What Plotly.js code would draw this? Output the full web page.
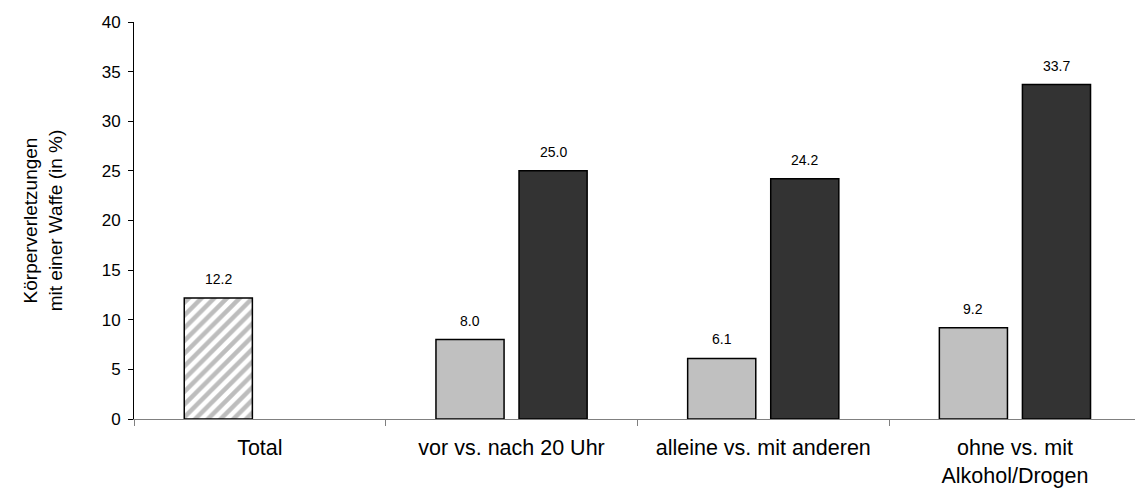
<!DOCTYPE html>
<html>
<head>
<meta charset="utf-8">
<script src="https://cdn.plot.ly/plotly-3.0.1.min.js"></script>
<style>html,body{margin:0;padding:0;background:#fff;}#chart{width:1135px;height:488px;}</style>
</head>
<body>
<div id="chart"></div>
<script>
// Data
const categories = ['Total', 'vor vs. nach 20 Uhr', 'alleine vs. mit anderen', 'ohne vs. mit<br>Alkohol/Drogen'];
const totalValue = [12.2];
const firstCategories = categories.slice(1);
const firstValues = [8.0, 6.1, 9.2];            // vor / alleine / ohne
const secondValues = [25.0, 24.2, 33.7];        // nach / mit anderen / mit
const yTickVals = [0, 5, 10, 15, 20, 25, 30, 35, 40];

const bargap = 0.34;
const font = 'Liberation Sans, Arial, sans-serif';

const traceTotal = {
  type: 'bar',
  x: [categories[0]],
  y: totalValue,
  offsetgroup: 'a',
  marker: {
    color: '#ffffff',
    line: {color: '#000000', width: 1.5},
    pattern: {shape: '/', fillmode: 'overlay', fgcolor: '#7c7c7c', bgcolor: '#ffffff', size: 9, solidity: 0.5}
  },
  hoverinfo: 'skip', showlegend: false
};
const trace1 = {
  type: 'bar',
  x: firstCategories,
  y: firstValues,
  offsetgroup: 'a',
  marker: {color: '#c0c0c0', line: {color: '#000000', width: 1.5}},
  hoverinfo: 'skip', showlegend: false
};
const trace2 = {
  type: 'bar',
  x: firstCategories,
  y: secondValues,
  offsetgroup: 'b',
  marker: {color: '#333333', line: {color: '#000000', width: 1.5}},
  hoverinfo: 'skip', showlegend: false
};

const slotOffset = (1 - bargap) / 4;
const annotations = [];
const labelFont = {family: font, size: 14, color: '#000'};
const allFirst = totalValue.concat(firstValues);
allFirst.forEach((v, i) => annotations.push({
  x: i - slotOffset, y: v, xref: 'x', yref: 'y', text: v.toFixed(1),
  showarrow: false, yanchor: 'bottom', yshift: 9, font: labelFont
}));
secondValues.forEach((v, i) => annotations.push({
  x: i + 1 + slotOffset, y: v, xref: 'x', yref: 'y', text: v.toFixed(1),
  showarrow: false, yanchor: 'bottom', yshift: 9, font: labelFont
}));

const layout = {
  width: 1135, height: 488,
  margin: {l: 134, r: 0, t: 22, b: 69},
  paper_bgcolor: '#ffffff', plot_bgcolor: '#ffffff',
  barmode: 'group', bargap: bargap, bargroupgap: 0.18,
  font: {family: font, color: '#000'},
  xaxis: {
    type: 'category',
    categoryorder: 'array', categoryarray: categories,
    range: [-0.5, 3.477],
    tickson: 'boundaries',
    ticks: 'outside', ticklen: 6, tickcolor: '#808080',
    showline: true, linecolor: '#808080', linewidth: 1,
    showgrid: false, zeroline: false,
    tickfont: {family: font, size: 21.5, color: '#000'},
    ticklabelstandoff: 9,
    fixedrange: true
  },
  yaxis: {
    range: [0, 40],
    tickvals: yTickVals,
    ticks: 'outside', ticklen: 5, tickcolor: '#000',
    showline: true, linecolor: '#000', linewidth: 1,
    showgrid: false, zeroline: false,
    tickfont: {family: font, size: 17, color: '#000'},
    ticklabelstandoff: 4,
    title: {text: 'Körperverletzungen<br>mit einer Waffe (in %)', font: {family: font, size: 19, color: '#000'}, standoff: 34},
    fixedrange: true
  },
  annotations: annotations
};

Plotly.newPlot('chart', [traceTotal, trace1, trace2], layout, {displayModeBar: false, staticPlot: true});
</script>
</body>
</html>
